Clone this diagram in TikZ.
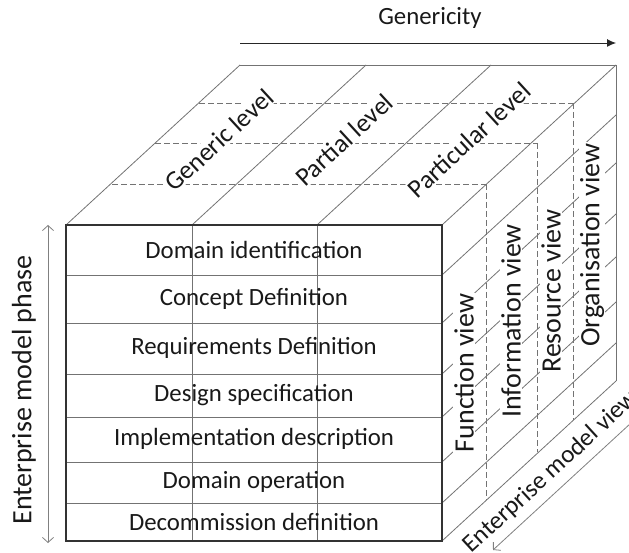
\documentclass[tikz,border=0pt]{standalone}
\usepackage{fontspec}
\setmainfont{Carlito}
\usetikzlibrary{arrows.meta}

\begin{document}
\begin{tikzpicture}[x=1pt,y=-1pt]
\tikzstyle{thin}=[draw=black!55,line width=0.8pt]
\tikzstyle{frame}=[draw=black!80,line width=1.6pt]
\tikzstyle{hidden}=[draw=black!55,line width=0.8pt,dash pattern=on 6pt off 3pt]
\tikzstyle{phase}=[text=black!90,font=\fontsize{24.8}{28}\selectfont]
\tikzstyle{level}=[text=black!90,font=\fontsize{26}{28}\selectfont,fill=white,inner sep=1pt,rotate=42.6]
\tikzstyle{view}=[text=black!90,font=\fontsize{28}{30}\selectfont,fill=white,inner sep=1pt,rotate=90]
\useasboundingbox (0,0) rectangle (629,553);

% top face
\foreach \x in {66,192,317,442}
  \draw[thin] (\x,225) -- ++(174,-160);
\draw[thin] (240,65) -- (616,65);
\draw[hidden] (112,184) -- (486,184);
\draw[hidden] (155,143) -- (537,143);
\draw[hidden] (199,103) -- (573,103);

% right face
\draw[hidden] (486,184) -- (486,500);
\draw[hidden] (537,143) -- (537,452);
\draw[hidden] (573,103) -- (573,420);
\foreach \y in {275,323,374,417,462,503,541}
  \draw[thin] (442,\y) -- ++(174,-160);
\draw[thin] (616,65) -- (616,381);

% front face
\foreach \y in {275,323,374,417,462,503}
  \draw[thin] (66,\y) -- (442,\y);
\draw[thin] (192,225) -- (192,541);
\draw[thin] (317,225) -- (317,541);
\draw[frame] (66,225) rectangle (442,541);

\node[phase] (p1) at (254,250) {Domain identification};
\node[phase] (p2) at (254,299) {Concept Definition};
\node[phase] (p3) at (254,348) {Requirements Definition};
\node[phase] (p4) at (254,395) {Design specification};
\node[phase] (p5) at (254,439) {Implementation description};
\node[phase] (p6) at (254,482) {Domain operation};
\node[phase] (p7) at (254,522) {Decommission definition};

\node[level] (l1) at (219,140) {Generic level};
\node[level] (l2) at (344,140) {Partial level};
\node[level] (l3) at (469,140) {Particular level};

\node[view] (v1) at (464,373) {Function view};
\node[view] (v2) at (511,321) {Information view};
\node[view] (v3) at (551,291) {Resource view};
\node[view] (v4) at (592,245) {Organisation view};

% axes
\coordinate (g0) at (240,43);
\coordinate (g1) at (616,43);
\node[phase] (gen) at (430,18) {Genericity};
\path[-{Latex[length=9pt,width=8pt]},color=black!85,line width=0.9pt] (g0) edge (g1);

\coordinate (m0) at (48,225);
\coordinate (m1) at (48,543);
\node[view,fill=none] (mp) at (24,390) {Enterprise model phase};
\path[{Straight Barb[length=5pt,width=11pt]}-{Straight Barb[length=5pt,width=11pt]},color=black!50,line width=0.8pt] (m0) edge (m1);

\coordinate (w0) at (631,423);
\coordinate (w1) at (493,550);
\node[level,fill=none,font=\fontsize{25}{28}\selectfont] (mv) at (551,472) {Enterprise model view};
\path[-{Straight Barb[length=5pt,width=11pt]},color=black!50,line width=0.8pt] (w0) edge (w1);

\end{tikzpicture}
\end{document}
